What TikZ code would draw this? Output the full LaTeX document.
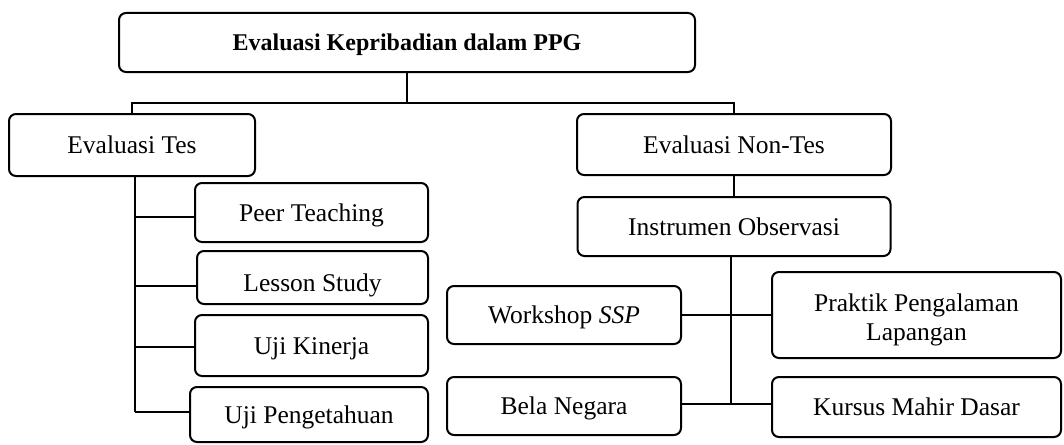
\documentclass[tikz,border=0pt]{standalone}
\usepackage{fontspec}
\setmainfont{Liberation Serif}
\begin{document}
\begin{tikzpicture}[x=1pt,y=-1pt,
  box/.style={draw, line width=2pt, rounded corners=7pt, inner sep=0pt,
    font=\fontsize{25.5}{29}\selectfont, align=center, text height=17pt, text depth=0pt},
  conn/.style={line width=2pt}]
\useasboundingbox (0,0) rectangle (1064,444);
% boxes
\node[box, minimum width=576pt, minimum height=59pt, font=\fontsize{24}{28}\selectfont\bfseries, text height=16pt] (top) at (407,42.5) {Evaluasi Kepribadian dalam PPG};
\node[box, minimum width=246pt, minimum height=62pt] (evtes) at (132,145) {Evaluasi Tes};
\node[box, minimum width=314pt, minimum height=61pt] (evnon) at (734,144.5) {Evaluasi Non-Tes};
\node[box, minimum width=313pt, minimum height=59pt] (instr) at (734,226.5) {Instrumen Observasi};
\node[box, minimum width=233pt, minimum height=59pt] (peer) at (311.5,212.5) {Peer Teaching};
\node[box, minimum width=231pt, minimum height=53pt, text height=27pt] (lesson) at (312.5,277.5) {Lesson Study};
\node[box, minimum width=233pt, minimum height=61pt] (kinerja) at (311.5,345.5) {Uji Kinerja};
\node[box, minimum width=238pt, minimum height=55pt] (ujip) at (309,414.5) {Uji Pengetahuan};
\node[box, minimum width=234pt, minimum height=58pt] (work) at (564,315) {Workshop \textit{SSP}};
\node[box, minimum width=234pt, minimum height=58pt] (bela) at (564,406) {Bela Negara};
\node[box, minimum width=289pt, minimum height=86pt, text height=51pt] (praktik) at (916.5,315) {Praktik Pengalaman\\Lapangan};
\node[box, minimum width=289pt, minimum height=60pt] (kursus) at (916.5,407) {Kursus Mahir Dasar};
% connectors
\coordinate (jt) at (407,103);
\draw[conn] (top.south) -- (jt);
\draw[conn] (evtes.north) -- (evtes.north |- jt) -- (evnon.north |- jt) -- (evnon.north);
% left spine
\coordinate (ls) at (135,176);
\coordinate (le) at (135,412);
\draw[conn] (ls) -- (le);
\draw[conn] (135,217) -- (peer.west |- 0,217);
\draw[conn] (135,286) -- (lesson.west |- 0,286);
\draw[conn] (135,347) -- (kinerja.west |- 0,347);
\draw[conn] (le) -- (ujip.west |- le);
% right
\draw[conn] (evnon.south) -- (instr.north);
\coordinate (rs) at (731,256);
\coordinate (re) at (731,404);
\draw[conn] (rs) -- (re);
\draw[conn] (work.east) -- (praktik.west);
\draw[conn] (bela.east |- re) -- (kursus.west |- re);
\end{tikzpicture}
\end{document}
